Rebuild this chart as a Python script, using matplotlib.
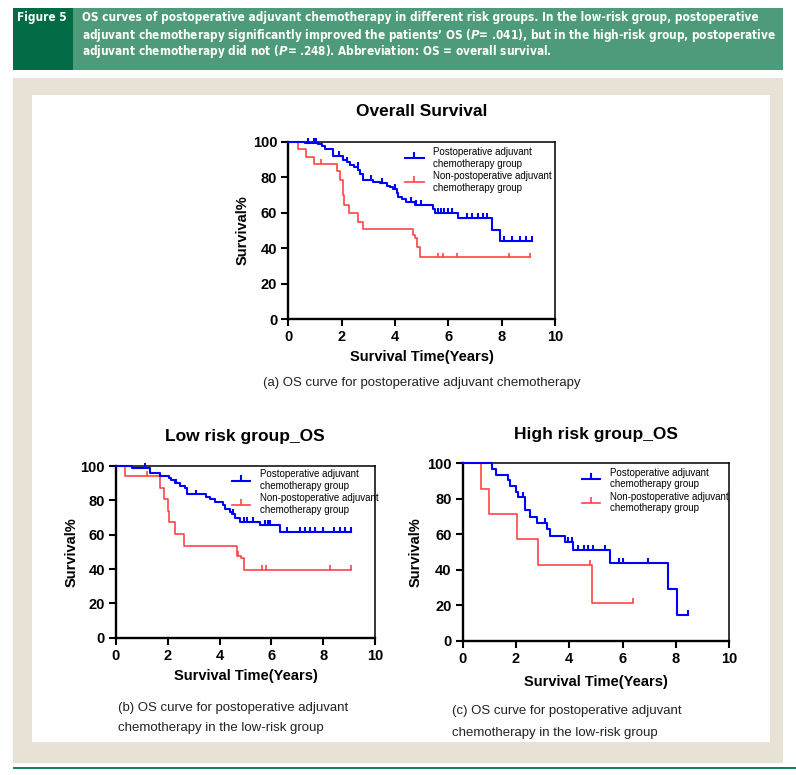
import numpy as np
import matplotlib
matplotlib.use("Agg")
import matplotlib.pyplot as plt
from matplotlib.patches import Rectangle
from matplotlib.lines import Line2D

plt.rcParams['font.family'] = ['Liberation Sans', 'DejaVu Sans']
plt.rcParams['mathtext.fontset'] = 'custom'
plt.rcParams['mathtext.it'] = 'DejaVu Sans:italic:bold'
plt.rcParams['mathtext.rm'] = 'DejaVu Sans:bold'

# ---- data ----
# (a) overall
a_post_t = [0, 0.63, 1.12, 1.25, 1.38, 1.69, 2.06, 2.19, 2.31, 2.46, 2.63, 2.69, 2.79, 3.19, 3.44,
            3.69, 3.81, 3.94, 4.06, 4.13, 4.25, 4.43, 4.75, 5.43, 5.5, 6.37, 7.62, 7.93, 9.12]
a_post_s = [100, 99.4, 98.7, 97.6, 95.7, 92, 89.7, 88.4, 87, 86, 84, 82, 78.4, 77.5, 76.5,
            75.2, 74.3, 73.2, 71, 69, 67.5, 66, 64.3, 62, 60, 57.2, 50.5, 44.2, 44.2]
a_post_cens = [0.75, 0.95, 1.05, 1.9, 2.2, 2.6, 3.1, 3.5, 4.0, 4.6, 4.8, 4.99, 5.6, 5.72, 5.85,
               6.0, 6.15, 6.7, 6.9, 7.1, 7.3, 7.45, 8.1, 8.4, 8.7, 8.9, 9.12]
a_non_t = [0, 0.35, 0.66, 0.96, 1.81, 1.94, 2.04, 2.09, 2.29, 2.63, 2.81, 4.68, 4.76, 4.84, 4.93, 9.08]
a_non_s = [100, 95.8, 91.6, 87.5, 83.3, 78.4, 70, 64.5, 60, 55, 50.6, 47.5, 45.6, 40.9, 34.8, 34.8]
a_non_cens = [1.21, 5.62, 5.81, 6.33, 8.28, 9.08]

# (b) low risk
b_post_t = [0, 0.61, 1.32, 1.7, 2.03, 2.13, 2.28, 2.48, 2.67, 2.73, 3.48, 3.64, 3.83, 4.13, 4.22,
            4.39, 4.48, 4.61, 4.8, 5.56, 6.33, 9.06]
b_post_s = [100, 98.8, 96, 94.4, 92.8, 91.6, 89.9, 88.5, 87, 83.5, 82, 80.6, 79, 77, 75,
            73.4, 72, 70, 67.6, 65.6, 61.5, 61.5]
b_post_cens = [1.12, 2.3, 3.1, 4.5, 4.95, 5.05, 5.3, 5.75, 5.85, 5.95, 6.6, 7.1, 7.3, 7.5, 7.68,
               8.0, 8.4, 8.65, 8.84, 9.06]
b_non_t = [0, 0.35, 1.7, 1.86, 2.01, 2.05, 2.28, 2.63, 4.67, 4.82, 4.95, 9.06]
b_non_s = [100, 94, 87.2, 80.6, 73.8, 67.4, 60.4, 53.6, 47.6, 46.6, 39.6, 39.6]
b_non_cens = [1.19, 4.72, 5.62, 5.79, 8.26, 9.06]

# (c) high risk
c_post_t = [0, 1.09, 1.25, 1.69, 1.78, 2.0, 2.09, 2.34, 2.53, 2.78, 3.15, 3.28, 3.84, 4.15,
            5.53, 7.69, 8.03, 8.44]
c_post_s = [100, 96.6, 93.2, 90.4, 87.2, 83.8, 81.2, 73.7, 70, 66.5, 63, 59, 55.5, 51.1,
            43.8, 28.9, 14.5, 14.5]
c_post_cens = [2.25, 3.09, 3.96, 4.09, 4.34, 4.55, 4.71, 4.9, 5.34, 5.86, 6.0, 6.96, 8.44]
c_non_t = [0, 0.69, 1.0, 2.05, 2.84, 4.86, 6.38]
c_non_s = [100, 85.7, 71.4, 57.1, 42.9, 21.4, 21.4]
c_non_cens = [4.78, 6.38]

x_ticks = [0, 2, 4, 6, 8, 10]
y_ticks = [0, 20, 40, 60, 80, 100]
legend_labels = ['Postoperative adjuvant\nchemotherapy group',
                 'Non-postoperative adjuvant\nchemotherapy group']

BLUE = '#0000ff'
RED = '#ff4444'

W, H = 796, 775
fig = plt.figure(figsize=(W / 100, H / 100), dpi=100)


def fx(x):
    return x / W


def fy(y):
    return 1 - y / H


def box(x0, y0, x1, y1, color, z=-10):
    fig.add_artist(Rectangle((fx(x0), fy(y1)), (x1 - x0) / W, (y1 - y0) / H,
                             transform=fig.transFigure, color=color, lw=0, zorder=z))


# background / header
box(13, 8, 73, 70, '#006b45')
box(73, 8, 783, 70, '#4e9b7b')
box(13, 78, 783, 763, '#e7e2d5')
box(32, 95, 770, 742, 'white', z=-9)
box(13, 767, 796, 769, '#14855a')

hdr = dict(color='white', fontsize=10.5, fontweight='bold', va='center', ha='left',
           family='DejaVu Sans', fontstretch='condensed')
hdr_texts = [
    fig.text(fx(17), fy(18), 'Figure 5', **hdr),
    fig.text(fx(82), fy(18), 'OS curves of postoperative adjuvant chemotherapy in different risk groups. '
             'In the low-risk group, postoperative', **hdr),
    fig.text(fx(82), fy(35), 'adjuvant chemotherapy significantly improved the patients\u2019 OS ($P$= .041), '
             'but in the high-risk group, postoperative', **hdr),
    fig.text(fx(82), fy(52), 'adjuvant chemotherapy did not ($P$= .248). Abbreviation: OS = overall survival.',
             **hdr),
]
# shrink header font so the first caption line fits the green band like the reference
r = fig.canvas.get_renderer()
w1 = hdr_texts[1].get_window_extent(r).width
size = min(10.5, 10.5 * 678 / w1)
for t in hdr_texts:
    t.set_fontsize(size)

tick_marker = [(0, 0), (0, 1)]


def km(ax, t, s, cens, color, lw):
    ax.step(t, s, where='post', color=color, lw=lw, clip_on=False, zorder=3)
    t = np.asarray(t)
    s = np.asarray(s)
    idx = np.searchsorted(t, cens, side='right') - 1
    ys = s[idx]
    ax.vlines(cens, ys, ys + 2.8, color=color, lw=lw, clip_on=False, zorder=3)


def panel(x0, y0, x1, y1, post, non, title, title_xy, xlab_y, ylab_x, leg_xy):
    ax = fig.add_axes([fx(x0), fy(y1), (x1 - x0) / W, (y1 - y0) / H])
    km(ax, *non, RED, 1.2)
    km(ax, *post, BLUE, 1.5)
    ax.set_xlim(0, 10)
    ax.set_ylim(0, 100)
    ax.set_xticks(x_ticks)
    ax.set_yticks(y_ticks)
    for side in ['left', 'bottom']:
        ax.spines[side].set_linewidth(1.7)
    for side in ['top', 'right']:
        ax.spines[side].set_linewidth(1.1)
    ax.tick_params(direction='out', length=5, width=1.5, labelsize=10.5, pad=3)
    for lab in ax.get_xticklabels() + ax.get_yticklabels():
        lab.set_fontweight('bold')
    handles = [Line2D([0], [0], color=BLUE, lw=1.5, marker=tick_marker, markersize=8,
                      markeredgewidth=1.5),
               Line2D([0], [0], color=RED, lw=1.2, marker=tick_marker, markersize=8,
                      markeredgewidth=1.2)]
    ax.legend(handles, legend_labels, loc='upper left', bbox_to_anchor=leg_xy, frameon=False,
              fontsize=7, handlelength=1.9, handletextpad=1.0, borderpad=0, borderaxespad=0,
              labelspacing=0.25)
    cx = (x0 + x1) / 2
    fig.text(fx(title_xy[0]), fy(title_xy[1]), title, fontsize=12.5, fontweight='bold',
             ha='center', va='center')
    fig.text(fx(cx), fy(xlab_y), 'Survival Time(Years)', fontsize=10.5, fontweight='bold',
             ha='center', va='center')
    fig.text(fx(ylab_x), fy((y0 + y1) / 2), 'Survival%', fontsize=10.5, fontweight='bold',
             ha='center', va='center', rotation=90)
    return ax


panel(288.3, 141.7, 555, 319.3, (a_post_t, a_post_s, a_post_cens), (a_non_t, a_non_s, a_non_cens),
      'Overall Survival', (422, 112), 357, 243, (0.438, 0.97))
panel(116, 466, 375, 637.7, (b_post_t, b_post_s, b_post_cens), (b_non_t, b_non_s, b_non_cens),
      'Low risk group_OS', (245, 437), 676, 72, (0.447, 0.98))
panel(462.7, 463.3, 729.3, 640.7, (c_post_t, c_post_s, c_post_cens), (c_non_t, c_non_s, c_non_cens),
      'High risk group_OS', (596, 434), 682, 416, (0.446, 0.975))

cap = dict(fontsize=9.5, va='center', color='#222222')
fig.text(fx(422), fy(383), '(a) OS curve for postoperative adjuvant chemotherapy', ha='center', **cap)
fig.text(fx(118), fy(708), '(b) OS curve for postoperative adjuvant', ha='left', **cap)
fig.text(fx(118), fy(728), 'chemotherapy in the low-risk group', ha='left', **cap)
fig.text(fx(452), fy(711), '(c) OS curve for postoperative adjuvant', ha='left', **cap)
fig.text(fx(452), fy(733), 'chemotherapy in the low-risk group', ha='left', **cap)

fig.savefig('out.png', dpi=100)
